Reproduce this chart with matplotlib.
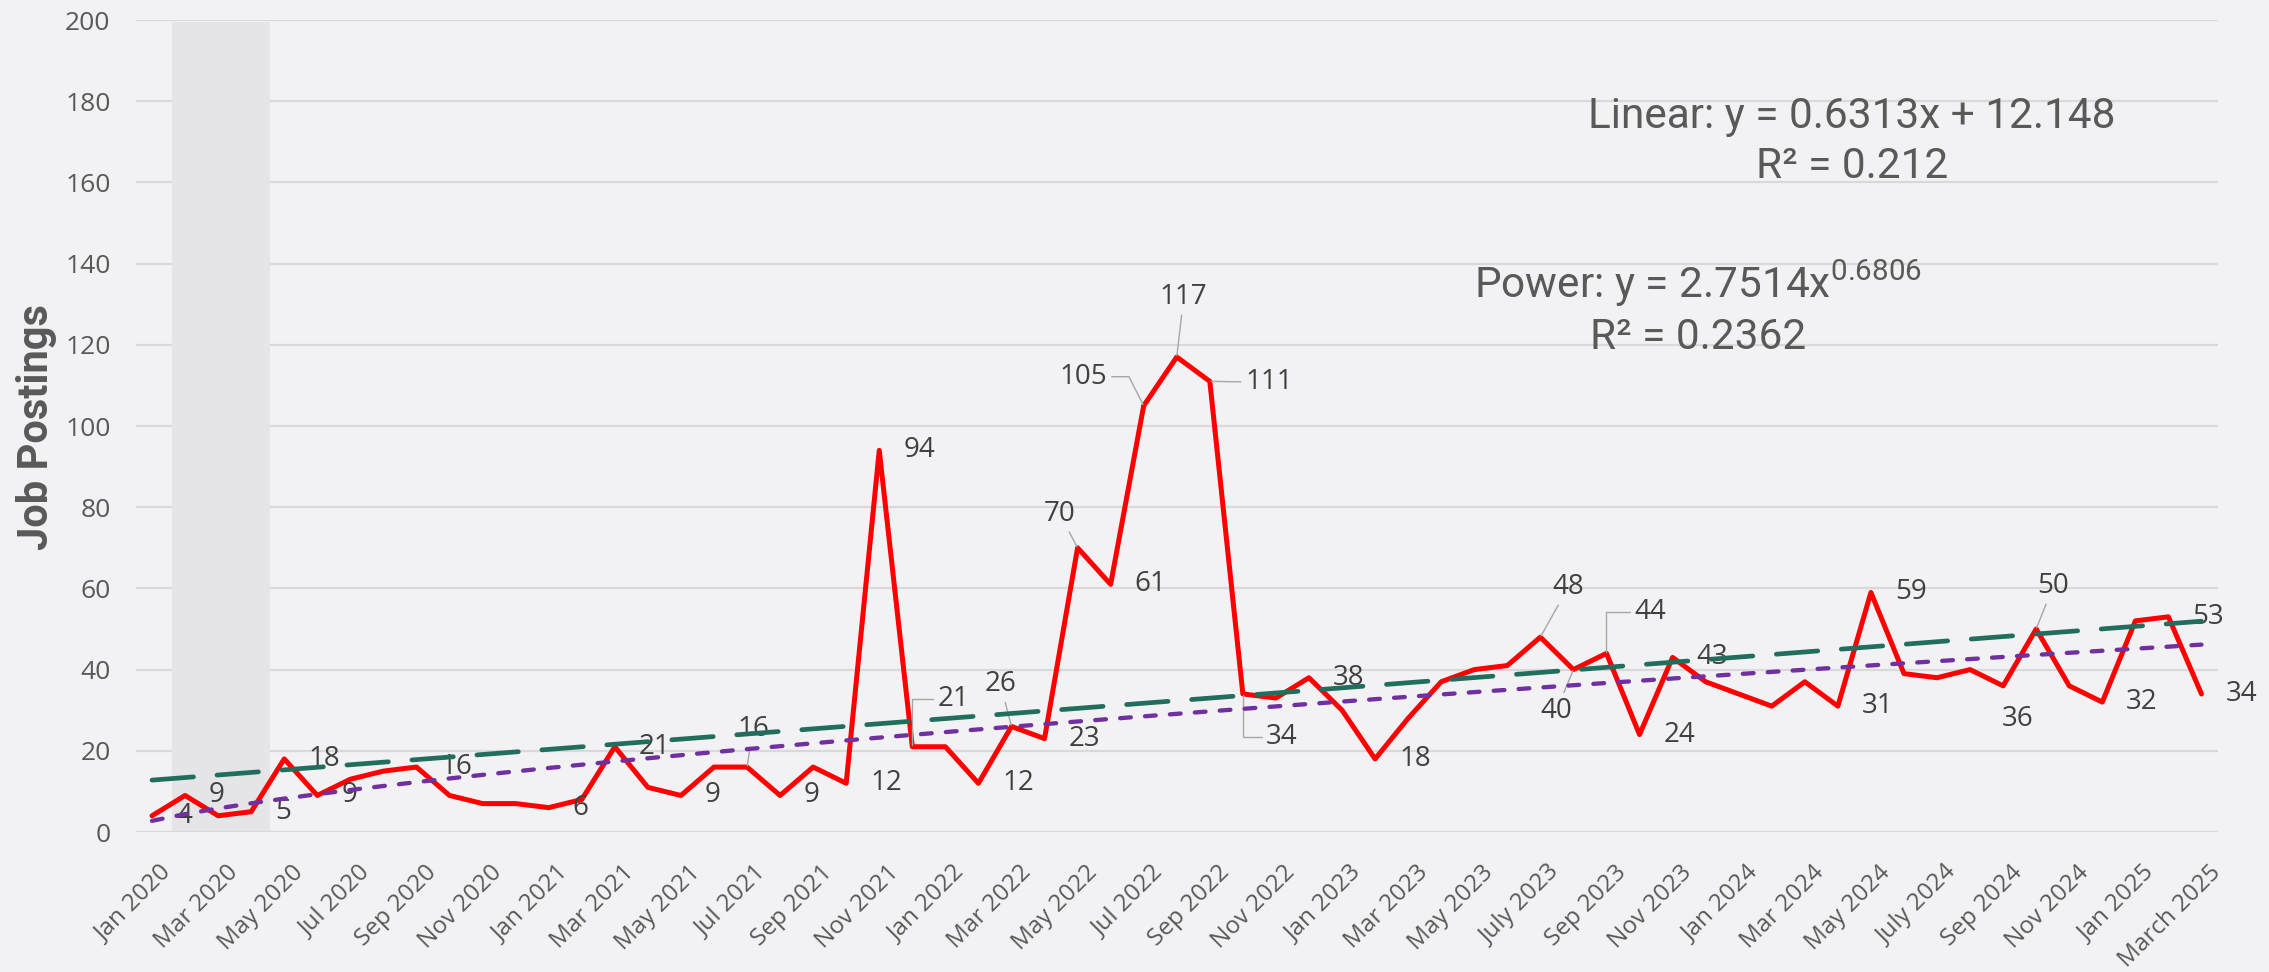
import numpy as np
import matplotlib
matplotlib.use("Agg")
import matplotlib.pyplot as plt
from matplotlib import transforms

# ---------------- data ----------------
tick_labels = ["Jan 2020", "Mar 2020", "May 2020", "Jul 2020", "Sep 2020", "Nov 2020",
               "Jan 2021", "Mar 2021", "May 2021", "Jul 2021", "Sep 2021", "Nov 2021",
               "Jan 2022", "Mar 2022", "May 2022", "Jul 2022", "Sep 2022", "Nov 2022",
               "Jan 2023", "Mar 2023", "May 2023", "July 2023", "Sep 2023", "Nov 2023",
               "Jan 2024", "Mar 2024", "May 2024", "July 2024", "Sep 2024", "Nov 2024",
               "Jan 2025", "March 2025"]

job_postings = [4, 9, 4, 5, 18, 9, 13, 15, 16, 9,
                7, 7, 6, 8, 21, 11, 9, 16, 16, 9,
                16, 12, 94, 21, 21, 12, 26, 23, 70, 61,
                105, 117, 111, 34, 33, 38, 30, 18, 28, 37,
                40, 41, 48, 40, 44, 24, 43, 37, 34, 31,
                37, 31, 59, 39, 38, 40, 36, 50, 36, 32,
                52, 53, 34]

# trendline coefficients (as shown on chart)
lin_slope, lin_intercept, lin_r2 = 0.6313, 12.148, 0.212
pow_coef, pow_exp, pow_r2 = 2.7514, 0.6806, 0.2362

# indices of points carrying a data label
labeled_right = [0, 1, 3, 4, 5, 8, 12, 14, 16, 19, 21, 22, 25, 27, 29, 35, 37,
                 45, 46, 51, 52, 59, 61, 62]
labeled_moved = [18, 23, 26, 28, 30, 31, 32, 33, 42, 43, 44, 56, 57]

# ---------------- style / layout ----------------
DPI = 100
BG = "#f2f2f4"
BAND = "#e5e5e8"
GRID = "#d9d9d9"
TXT = "#595959"
LBL = "#404040"
RED = "#ff0000"
GREEN = "#226e5e"
PURPLE = "#7030a0"
LEADER = "#a6a6a6"

W, H = 2269, 972
plt.rcParams["mathtext.fontset"] = "custom"
plt.rcParams["mathtext.rm"] = "Roboto"
plt.rcParams["mathtext.it"] = "Roboto:italic"
plt.rcParams["mathtext.bf"] = "Roboto:bold"

fig = plt.figure(figsize=(W / DPI, H / DPI), dpi=DPI, facecolor=BG)
ax = fig.add_axes([135.5 / W, 1 - 832 / H, (2218 - 135.5) / W, (832 - 20) / H])
ax.set_facecolor(BG)

x = np.arange(len(job_postings))
y = np.array(job_postings)
xe = x + 1
lin = lin_slope * xe + lin_intercept
pw = pow_coef * xe ** pow_exp

ax.set_xlim(-0.5, len(x) - 0.5)
ax.set_ylim(0, 200)
for s in ax.spines.values():
    s.set_visible(False)

ax.set_yticks(np.arange(0, 201, 20))
ax.yaxis.grid(True, color=GRID, lw=1.6)
ax.set_axisbelow(True)
ax.axvspan(0.6, 3.57, ymin=0, ymax=0.997, color=BAND, zorder=1, lw=0)
ax.axhline(0, color=GRID, lw=1.6, zorder=1.5)

ax.plot(x, y, color=RED, lw=3.6, zorder=3, solid_joinstyle="round", solid_capstyle="round")
ax.plot(x, lin, color=GREEN, lw=3.4, dashes=(8.8, 5.0), dash_capstyle="round", zorder=4)
ax.plot(x, pw, color=PURPLE, lw=3.1, dashes=(2.5, 3.3), dash_capstyle="round", zorder=4)

ax.tick_params(axis="both", length=0)
ax.tick_params(axis="y", pad=18)
for t in ax.get_yticklabels():
    t.set_fontfamily("Open Sans")
    t.set_fontsize(19)
    t.set_color(TXT)

# x category labels (every second month), rotated 45 degrees
tick_pos = x[::2]
ax.set_xticks(tick_pos)
ax.set_xticklabels([])
xlab_trans = transforms.offset_copy(ax.get_xaxis_transform(), fig=fig,
                                    x=16, y=-37, units="dots")
for pos, lab in zip(tick_pos, tick_labels):
    ax.text(pos, 0, lab, transform=xlab_trans, rotation=45, ha="right", va="center",
            rotation_mode="anchor", fontsize=17.5, family="Open Sans", color=TXT,
            clip_on=False)

# data labels
lbl_font = dict(family="Open Sans", fontsize=20, color=LBL)
for i in labeled_right:
    ax.annotate(str(job_postings[i]), (i, job_postings[i]), xytext=(24, 0),
                textcoords="offset pixels", ha="left", va="center", zorder=3.5, **lbl_font)

ELBOW = "angle,angleA=0,angleB=90,rad=0"
moved_pos = {18: (6, 38, "arc3"), 23: (41, 48, ELBOW), 26: (-11, 42, "arc3"),
             28: (-18, 34, "arc3"), 30: (-60, 29, "angle,angleA=0,angleB=117,rad=0"),
             31: (7, 60, "arc3"), 32: (59, -1, "arc3"), 33: (39, -43, ELBOW),
             42: (28, 50, "arc3"), 43: (-17, -41, "arc3"), 44: (44, 41, ELBOW),
             56: (15, -33, None), 57: (17, 43, "arc3")}
for i in labeled_moved:
    dx, dy, cs = moved_pos[i]
    kw = {}
    if cs is not None:
        kw["arrowprops"] = dict(arrowstyle="-", color=LEADER, lw=1.0, shrinkA=1,
                                shrinkB=1, connectionstyle=cs)
    ax.annotate(str(job_postings[i]), (i, job_postings[i]), xytext=(dx, dy),
                textcoords="offset pixels", ha="center", va="center", zorder=3.5,
                bbox=dict(boxstyle="square,pad=0.1", fc="none", ec="none"),
                **lbl_font, **kw)

# trendline equations
eq_font = dict(family="Roboto", fontsize=30.5, color=TXT, ha="center", va="baseline")
fig.text(1852 / W, 1 - 128 / H, f"Linear: y = {lin_slope}x + {lin_intercept}", **eq_font)
fig.text(1852 / W, 1 - 178 / H, f"R² = {lin_r2}", **eq_font)
fig.text(1698 / W, 1 - 298 / H, f"Power: y = {pow_coef}x$^{{{pow_exp}}}$", **eq_font)
fig.text(1698 / W, 1 - 349 / H, f"R² = {pow_r2}", **eq_font)

# y-axis title
fig.text(37 / W, 1 - 427 / H, "Job Postings", rotation=90, ha="center", va="center",
         family="Roboto", fontweight="bold", fontsize=30, color=TXT)

fig.savefig("out.png", dpi=DPI, facecolor=BG)
